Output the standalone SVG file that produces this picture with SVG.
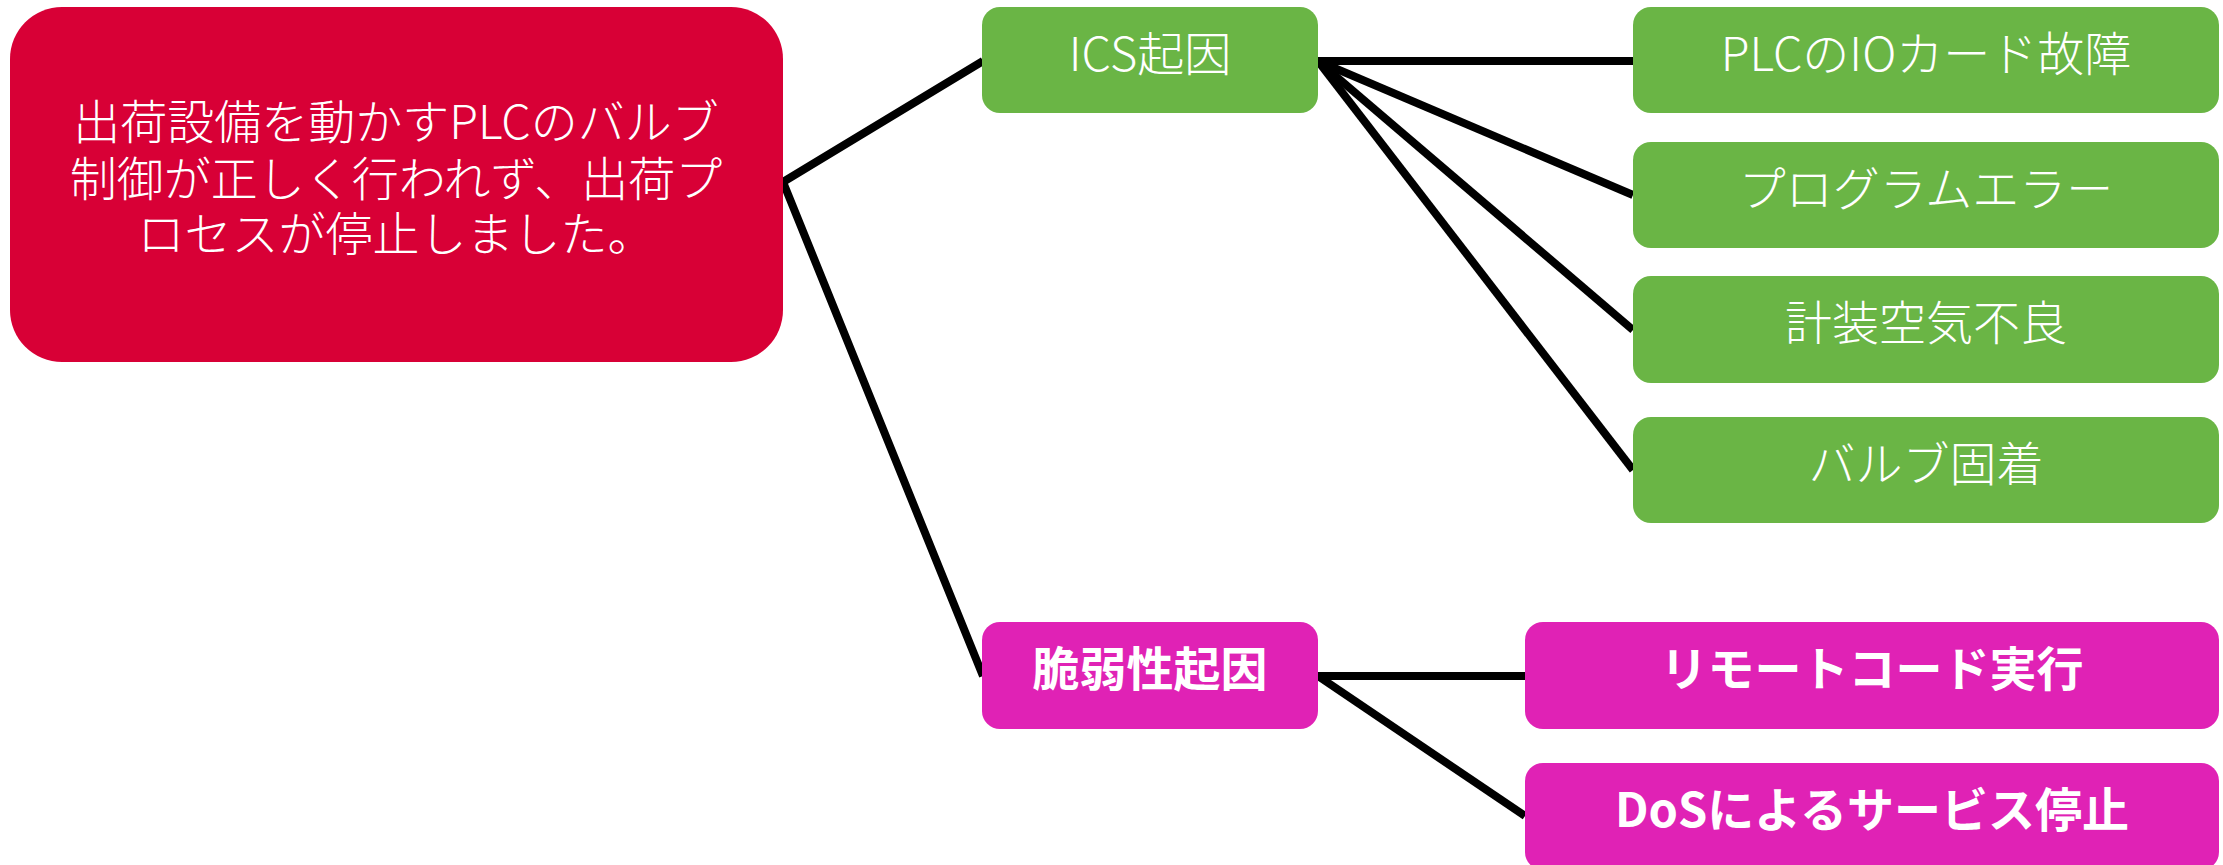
<svg xmlns="http://www.w3.org/2000/svg" width="2223" height="865" viewBox="0 0 2223 865">
  <style>
    .red { fill: #D80036; }
    .green { fill: #6AB545; }
    .pink { fill: #E022B5; }
    .t { fill: #FFFFFF; font-family: "Noto Sans CJK JP", "Noto Sans", sans-serif; font-size: 47px; font-weight: 300; text-anchor: middle; }
    .b { font-weight: 700; }
    .c { fill: none; stroke: #000000; stroke-width: 8; stroke-linejoin: miter; stroke-linecap: butt; }
  </style>
  <rect width="2223" height="865" fill="#FFFFFF"/>
  <g id="connectors">
    <polyline class="c" points="983,61 783,182 983,676"/>
    <line class="c" x1="1318" y1="61" x2="1633" y2="61"/>
    <line class="c" x1="1318" y1="61" x2="1633" y2="195"/>
    <line class="c" x1="1318" y1="61" x2="1633" y2="330"/>
    <line class="c" x1="1318" y1="61" x2="1633" y2="470"/>
    <line class="c" x1="1318" y1="676" x2="1525" y2="676"/>
    <line class="c" x1="1318" y1="676" x2="1525" y2="816"/>
  </g>
  <g id="root">
    <rect class="red" x="10" y="7" width="773" height="355" rx="52"/>
    <text class="t"><tspan x="396" y="139">出荷設備を動かすPLCのバルブ</tspan><tspan x="396" y="196">制御が正しく行われず、出荷プ</tspan><tspan x="396" y="251">ロセスが停止しました。</tspan></text>
  </g>
  <g id="ics">
    <rect class="green" x="982" y="7" width="336" height="106" rx="18"/>
    <text class="t" x="1150" y="71">ICS起因</text>
  </g>
  <g id="ics-1">
    <rect class="green" x="1633" y="7" width="586" height="106" rx="18"/>
    <text class="t" x="1926" y="71">PLCのIOカード故障</text>
  </g>
  <g id="ics-2">
    <rect class="green" x="1633" y="142" width="586" height="106" rx="18"/>
    <text class="t" x="1926" y="206">プログラムエラー</text>
  </g>
  <g id="ics-3">
    <rect class="green" x="1633" y="276" width="586" height="107" rx="18"/>
    <text class="t" x="1926" y="340">計装空気不良</text>
  </g>
  <g id="ics-4">
    <rect class="green" x="1633" y="417" width="586" height="106" rx="18"/>
    <text class="t" x="1926" y="481">バルブ固着</text>
  </g>
  <g id="vuln">
    <rect class="pink" x="982" y="622" width="336" height="107" rx="18"/>
    <text class="t b" x="1150" y="686">脆弱性起因</text>
  </g>
  <g id="vuln-1">
    <rect class="pink" x="1525" y="622" width="694" height="107" rx="18"/>
    <text class="t b" x="1872" y="686">リモートコード実行</text>
  </g>
  <g id="vuln-2">
    <rect class="pink" x="1525" y="763" width="694" height="107" rx="18"/>
    <text class="t b" x="1872" y="827">DoSによるサービス停止</text>
  </g>
</svg>
